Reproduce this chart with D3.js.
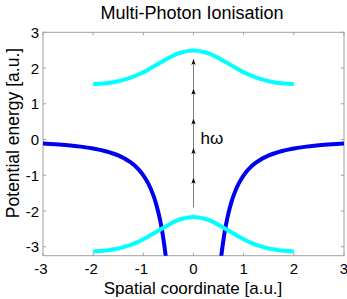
<!DOCTYPE html>
<html><head><meta charset="utf-8">
<script src="https://cdn.jsdelivr.net/npm/d3@7"></script>
<style>body{margin:0;background:#fff}svg{display:block;font-family:"Liberation Sans",Arial,sans-serif}</style>
</head><body><svg id="c" width="347" height="299"></svg>
<script>
const xTicks = [-3,-2,-1,0,1,2,3];
const yTicks = [-3,-2,-1,0,1,2,3];
const gaussX = [-2,-1.9,-1.8,-1.7,-1.6,-1.5,-1.4,-1.3,-1.2,-1.1,-1,-0.9,-0.8,-0.7,-0.6,-0.5,-0.4,-0.3,-0.2,-0.1,0,0.1,0.2,0.3,0.4,0.5,0.6,0.7,0.8,0.9,1,1.1,1.2,1.3,1.4,1.5,1.6,1.7,1.8,1.9,2];
const upperState = [1.55,1.56,1.57,1.58,1.60,1.63,1.67,1.71,1.76,1.82,1.88,1.96,2.04,2.12,2.20,2.28,2.35,2.41,2.45,2.48,2.49,2.48,2.45,2.41,2.35,2.28,2.20,2.12,2.04,1.96,1.88,1.82,1.76,1.71,1.67,1.63,1.60,1.58,1.57,1.56,1.55];
const lowerState = [-3.13,-3.12,-3.11,-3.10,-3.07,-3.05,-3.01,-2.97,-2.92,-2.86,-2.79,-2.71,-2.63,-2.55,-2.47,-2.39,-2.31,-2.25,-2.21,-2.18,-2.17,-2.18,-2.21,-2.25,-2.31,-2.39,-2.47,-2.55,-2.63,-2.71,-2.79,-2.86,-2.92,-2.97,-3.01,-3.05,-3.07,-3.10,-3.11,-3.12,-3.13];
const potLeftX = [-3,-2.75,-2.5,-2.25,-2,-1.75,-1.5,-1.25,-1.1,-1,-0.9,-0.8,-0.75,-0.7,-0.65,-0.6,-0.55,-0.5];
const potLeftY = [-0.111,-0.132,-0.16,-0.198,-0.25,-0.327,-0.444,-0.64,-0.826,-1,-1.235,-1.563,-1.778,-2.041,-2.367,-2.778,-3.306,-4];
const potRightX = [0.5,0.55,0.6,0.65,0.7,0.75,0.8,0.9,1,1.1,1.25,1.5,1.75,2,2.25,2.5,2.75,3];
const potRightY = [-4,-3.306,-2.778,-2.367,-2.041,-1.778,-1.563,-1.235,-1,-0.826,-0.64,-0.444,-0.327,-0.25,-0.198,-0.16,-0.132,-0.111];
const photonTails = [-1.9,-1.07,-0.24,0.59,1.42];
const photonHeads = [-1.07,-0.24,0.59,1.42,2.25];

const svg = d3.select("#c");
const L=43,R=344,T=32.3,B=255.7;
const x = d3.scaleLinear().domain([-3,3]).range([L,R]);
const y = d3.scaleLinear().domain([-3.25,3]).range([B,T]);

svg.append("defs").append("clipPath").attr("id","clip")
  .append("rect").attr("x",L).attr("y",T).attr("width",R-L).attr("height",B-T);

const axCol="#a0a0a0";
svg.append("rect").attr("x",L).attr("y",T).attr("width",R-L).attr("height",B-T)
  .attr("fill","none").attr("stroke",axCol).attr("stroke-width",1);

const tl=3;
xTicks.forEach(t=>{
  svg.append("line").attr("x1",x(t)).attr("x2",x(t)).attr("y1",B).attr("y2",B-tl).attr("stroke",axCol);
  svg.append("line").attr("x1",x(t)).attr("x2",x(t)).attr("y1",T).attr("y2",T+tl).attr("stroke",axCol);
  svg.append("text").attr("x",x(t)-(t<0?2:0)).attr("y",B+18).attr("text-anchor","middle")
    .attr("font-size",15).text(t);
});
yTicks.forEach(t=>{
  svg.append("line").attr("y1",y(t)).attr("y2",y(t)).attr("x1",L).attr("x2",L+tl).attr("stroke",axCol);
  svg.append("line").attr("y1",y(t)).attr("y2",y(t)).attr("x1",R).attr("x2",R-tl).attr("stroke",axCol);
  svg.append("text").attr("x",L-4).attr("y",y(t)+5.5).attr("text-anchor","end")
    .attr("font-size",15).text(t);
});

const g = svg.append("g").attr("clip-path","url(#clip)");
const line = d3.line().x(d=>x(d[0])).y(d=>y(d[1])).curve(d3.curveCatmullRom);

g.append("path").datum(potLeftX.map((v,i)=>[v,potLeftY[i]])).attr("d",line)
  .attr("fill","none").attr("stroke","#0000ee").attr("stroke-width",4);
g.append("path").datum(potRightX.map((v,i)=>[v,potRightY[i]])).attr("d",line)
  .attr("fill","none").attr("stroke","#0000ee").attr("stroke-width",4);
g.append("path").datum(gaussX.map((v,i)=>[v,upperState[i]])).attr("d",line)
  .attr("fill","none").attr("stroke","#00ffff").attr("stroke-width",4);
g.append("path").datum(gaussX.map((v,i)=>[v,lowerState[i]])).attr("d",line)
  .attr("fill","none").attr("stroke","#00ffff").attr("stroke-width",4);

photonTails.forEach((t,i)=>{
  const h = photonHeads[i];
  g.append("line").attr("x1",x(0)).attr("x2",x(0)).attr("y1",y(t)).attr("y2",y(h))
    .attr("stroke","#808080").attr("stroke-width",1);
  const hx=x(0), hy=y(h);
  g.append("path").attr("d",`M${hx},${hy} L${hx-2.2},${hy+6} L${hx},${hy+4.5} L${hx+2.2},${hy+6} Z`)
    .attr("fill","#000");
});
svg.append("text").attr("x",x(0)+7).attr("y",y(-0.12)).attr("font-size",17).text("hω");

svg.append("text").attr("x",192).attr("y",19).attr("text-anchor","middle").attr("font-size",18)
  .text("Multi-Photon Ionisation");
svg.append("text").attr("x",193).attr("y",294).attr("text-anchor","middle").attr("font-size",17)
  .text("Spatial coordinate [a.u.]");
svg.append("text").attr("transform","translate(19,133) rotate(-90)").attr("text-anchor","middle")
  .attr("font-size",17.5).text("Potential energy [a.u.]");
</script></body></html>
